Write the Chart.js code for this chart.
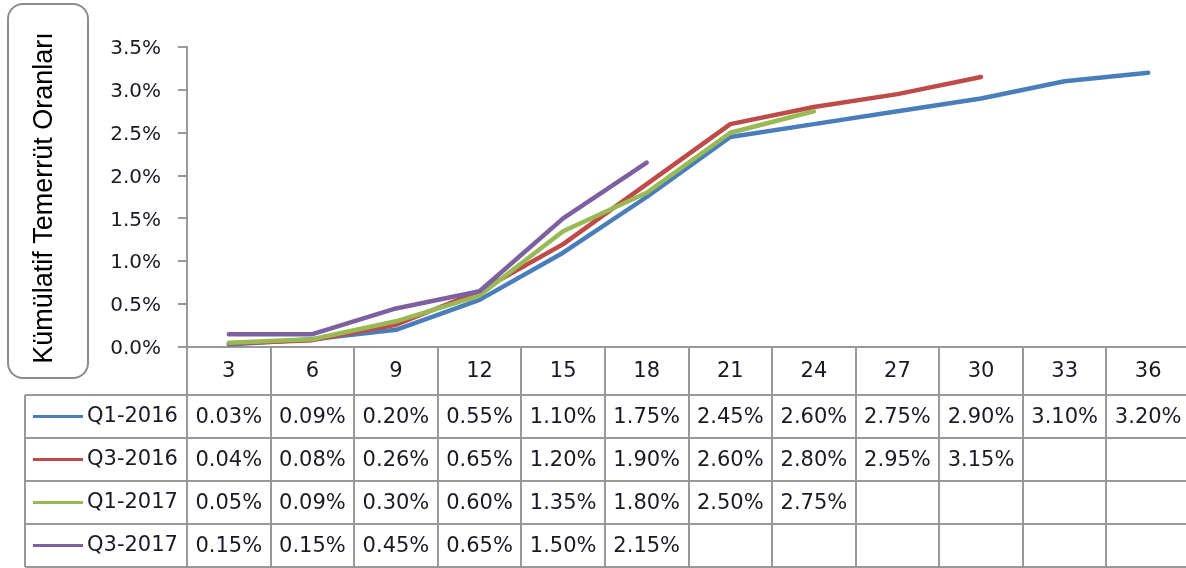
<!DOCTYPE html>
<html>
<head>
<meta charset="utf-8">
<script src="https://cdn.jsdelivr.net/npm/chart.js@4.4.1/dist/chart.umd.min.js"></script>
<style>
  html, body { margin: 0; padding: 0; background: #fff; overflow: hidden; }
  #wrap { width: 1190px; height: 568px; }
</style>
</head>
<body>
<div id="wrap"><canvas id="chart" width="1190" height="568"></canvas></div>
<script>
const months = ['3', '6', '9', '12', '15', '18', '21', '24', '27', '30', '33', '36'];

const q1_2016 = [0.03, 0.09, 0.20, 0.55, 1.10, 1.75, 2.45, 2.60, 2.75, 2.90, 3.10, 3.20];
const q3_2016 = [0.04, 0.08, 0.26, 0.65, 1.20, 1.90, 2.60, 2.80, 2.95, 3.15];
const q1_2017 = [0.05, 0.09, 0.30, 0.60, 1.35, 1.80, 2.50, 2.75];
const q3_2017 = [0.15, 0.15, 0.45, 0.65, 1.50, 2.15];

const seriesNames = ['Q1-2016', 'Q3-2016', 'Q1-2017', 'Q3-2017'];
const seriesColors = ['#4a7ebb', '#be4b48', '#98b954', '#7d60a0'];
const seriesData = [q1_2016, q3_2016, q1_2017, q3_2017];

const yTitle = 'Kümülatif Temerrüt Oranları';

const GRID = '#999999';
const TEXT = '#1a1a24';
const FONT = '"DejaVu Sans", Verdana, sans-serif';

// data table under the plot + boxed axis title
const tablePlugin = {
  id: 'dataTable',
  afterDraw(chart) {
    const { ctx, chartArea, scales } = chart;
    const x = scales.x;
    const colW = (chartArea.right - chartArea.left) / months.length;
    const top = chartArea.bottom;
    const rowsTop = 395;
    const rowH = 43;
    const bottom = rowsTop + rowH * seriesData.length;
    const tableLeft = 25;

    ctx.save();
    ctx.strokeStyle = GRID;
    ctx.lineWidth = 2;

    // column separators
    for (let i = 0; i <= months.length; i++) {
      const px = Math.round(chartArea.left + i * colW);
      ctx.beginPath();
      ctx.moveTo(px, top);
      ctx.lineTo(px, bottom);
      ctx.stroke();
    }
    // row lines
    for (let r = 0; r <= seriesData.length; r++) {
      const py = rowsTop + r * rowH;
      ctx.beginPath();
      ctx.moveTo(tableLeft, py);
      ctx.lineTo(chartArea.right, py);
      ctx.stroke();
    }
    ctx.beginPath();
    ctx.moveTo(tableLeft, rowsTop);
    ctx.lineTo(tableLeft, bottom);
    ctx.stroke();

    // category labels
    ctx.fillStyle = TEXT;
    ctx.font = '21px ' + FONT;
    ctx.textAlign = 'center';
    ctx.textBaseline = 'middle';
    months.forEach((m, i) => {
      ctx.fillText(m, x.getPixelForValue(i), (top + rowsTop) / 2 + 1);
    });

    // series rows
    seriesData.forEach((vals, r) => {
      const cy = rowsTop + r * rowH + rowH / 2 + 1;
      ctx.strokeStyle = seriesColors[r];
      ctx.lineWidth = 3;
      ctx.beginPath();
      ctx.moveTo(33, cy - 1);
      ctx.lineTo(83, cy - 1);
      ctx.stroke();
      ctx.textAlign = 'left';
      ctx.fillText(seriesNames[r], 87, cy - 1);
      ctx.textAlign = 'center';
      vals.forEach((v, i) => {
        ctx.fillText(v.toFixed(2) + '%', x.getPixelForValue(i), cy);
      });
    });

    // axis title box
    ctx.strokeStyle = '#8c8c8c';
    ctx.lineWidth = 2;
    ctx.beginPath();
    ctx.roundRect(8, 4, 80, 374, 15);
    ctx.stroke();
    ctx.translate(45, 198);
    ctx.rotate(-Math.PI / 2);
    ctx.fillStyle = '#000';
    ctx.font = '27px "Liberation Sans", Arial, sans-serif';
    ctx.textAlign = 'center';
    ctx.fillText(yTitle, 0, 0);
    ctx.restore();
  }
};

new Chart(document.getElementById('chart'), {
  type: 'line',
  data: {
    labels: months,
    datasets: seriesData.map((d, i) => ({
      label: seriesNames[i],
      data: d,
      borderColor: seriesColors[i],
      backgroundColor: seriesColors[i],
      borderWidth: 4.5,
      pointRadius: 0,
      borderJoinStyle: 'round',
      borderCapStyle: 'round',
      tension: 0,
      order: seriesData.length - i,
    })),
  },
  options: {
    responsive: false,
    animation: false,
    layout: { padding: { top: 47, left: 0, right: 0, bottom: 0 } },
    plugins: {
      legend: { display: false },
      tooltip: { enabled: false },
    },
    scales: {
      x: {
        type: 'category',
        offset: true,
        grid: { display: false },
        border: { display: true, color: GRID, width: 2 },
        ticks: { display: false },
        afterFit(scale) { scale.height = 221; },
      },
      y: {
        min: 0,
        max: 3.5,
        ticks: {
          stepSize: 0.5,
          padding: 17,
          labelOffset: 2,
          color: TEXT,
          font: { family: FONT, size: 20 },
          callback: v => v.toFixed(1) + '%',
        },
        grid: { drawOnChartArea: false, tickLength: 9, color: GRID, lineWidth: 2 },
        border: { display: true, color: GRID, width: 2 },
        afterFit(scale) { scale.width = 187; },
      },
    },
  },
  plugins: [tablePlugin],
});
</script>
</body>
</html>
